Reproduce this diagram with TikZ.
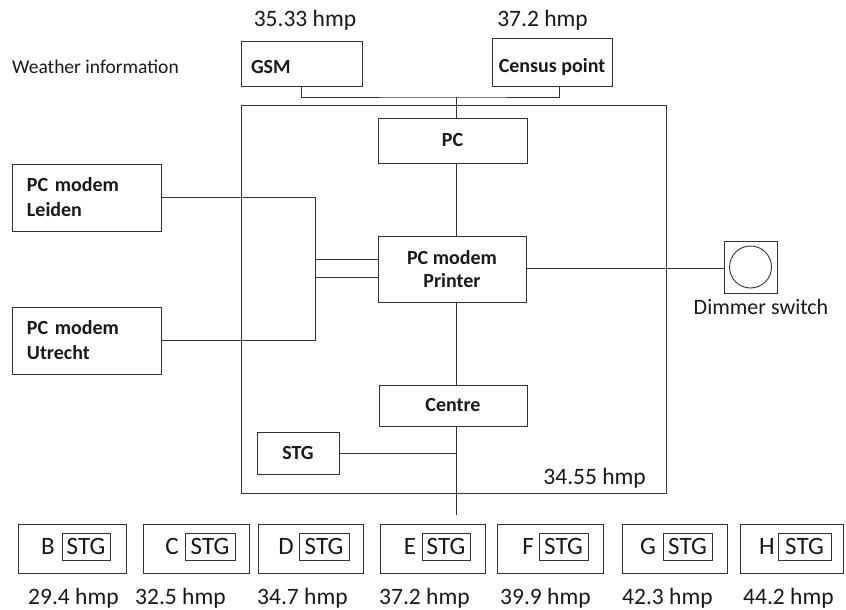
\documentclass[tikz,border=0pt]{standalone}
\usepackage{fontspec}
\setmainfont{Carlito}
\begin{document}
\begin{tikzpicture}[x=1pt,y=-1pt,
  ln/.style={draw=black!80,line width=0.9pt},
  box/.style={draw=black!80,line width=0.9pt,inner sep=0pt,text=black!90},
  lbl/.style={font=\fontsize{20}{25}\selectfont\bfseries},
  num/.style={font=\fontsize{23.5}{28}\selectfont,text=black!90,inner sep=0pt,anchor=base},
  stgtext/.style={font=\fontsize{25}{30}\selectfont,text=black!90,inner sep=0pt}
]
\useasboundingbox (0,0) rectangle (846,610);

% top labels
\node[num] (t1) at (305,26.5) {35.33 hmp};
\node[num] (t2) at (542.5,26.5) {37.2 hmp};
\node[num,anchor=base west,font=\fontsize{19.5}{24}\selectfont] (wi) at (12,73.5) {Weather information};

% top boxes
\node[box,lbl,minimum width=121pt,minimum height=45pt,text width=101pt,align=left,text height=21pt,text depth=0pt] (gsm) at (301.5,63.5) {GSM};
\node[box,lbl,minimum width=120pt,minimum height=48pt,text height=21pt,text depth=0pt] (census) at (552,62) {Census point};

% frame
\node[box,minimum width=425pt,minimum height=388pt] (frame) at (453.5,299) {};

% inner boxes
\node[box,lbl,minimum width=149pt,minimum height=45pt] (pc) at (452.5,140.5) {PC};
\node[box,lbl,minimum width=148pt,minimum height=66pt,align=center,font=\fontsize{20}{23}\selectfont\bfseries] (prn) at (452,269) {PC modem\\Printer};
\node[box,lbl,minimum width=148pt,minimum height=41pt] (centre) at (453,405.5) {Centre};
\node[box,lbl,minimum width=82pt,minimum height=42pt] (stg) at (298,453) {STG};
\node[num,anchor=base east] (t3) at (646,484.5) {34.55 hmp};

% left boxes
\node[box,lbl,text width=119pt,inner xsep=15pt,minimum height=67pt,align=left] (leiden) at (86.5,197.5) {PC modem\\Leiden};
\node[box,lbl,text width=119pt,inner xsep=15pt,minimum height=67pt,align=left] (utrecht) at (86.5,340.5) {PC modem\\Utrecht};

% dimmer
\node[box,minimum width=53pt,minimum height=52pt] (dim) at (750.5,267) {};
\node[draw=black!80,line width=0.9pt,circle,minimum size=42pt,inner sep=0pt] (knob) at (dim.center) {};
\node[num,font=\fontsize{22}{26}\selectfont] (dimlbl) at (761,314) {Dimmer switch};

% helper coordinates
\coordinate (spine) at (456,0);
\coordinate (cenx) at (559,0);
\coordinate (bus) at (456,97);
\coordinate (jx) at (315,0);
\coordinate (j1) at (315,259);
\coordinate (j2) at (315,277);
\coordinate (tail) at (456,515);

% connectors
\draw[ln] (gsm.south) |- (bus) -| (census.south -| cenx);
\draw[ln] (bus) -- (pc.north -| spine);
\draw[ln] (pc.south -| spine) -- (prn.north -| spine);
\draw[ln] (prn.south -| spine) -- (centre.north -| spine);
\draw[ln] (centre.south -| spine) -- (tail);
\draw[ln] (stg.east) -- (stg.east -| spine);
\draw[ln] (leiden.east) -- (leiden.east -| jx) -- (utrecht.east -| jx) -- (utrecht.east);
\draw[ln] (j1) -- (j1 -| prn.west);
\draw[ln] (j2) -- (j2 -| prn.west);
\draw[ln] (prn.east |- 0,268) -- (dim.west |- 0,268);

% bottom row
\foreach \n/\oa/\ob/\lx/\ia/\ib/\tx/\v in {
  B/18/126/48/62/110/28/29.4,
  C/143/249/172/185/235/135/32.5,
  D/258/363/286/299/349/257/34.7,
  E/380/485/410/422/470/379/37.2,
  F/497/603/528/539/588/500/39.9,
  G/622/727/648/663/712/622/42.3,
  H/740/843/767/778/831/743/44.2}{
  \node[box,minimum width={(\ob-\oa)*1pt},minimum height=49pt] (box\n) at ({(\oa+\ob)/2},548.5) {};
  \node[box,stgtext,minimum width={(\ib-\ia)*1pt},minimum height=27pt] (stg\n) at ({(\ia+\ib)/2},546.5) {STG};
  \node[stgtext] (let\n) at (\lx,546.5) {\n};
  \node[num,anchor=base west] (hmp\n) at (\tx,604.5) {\v\ hmp};
}
\end{tikzpicture}
\end{document}
